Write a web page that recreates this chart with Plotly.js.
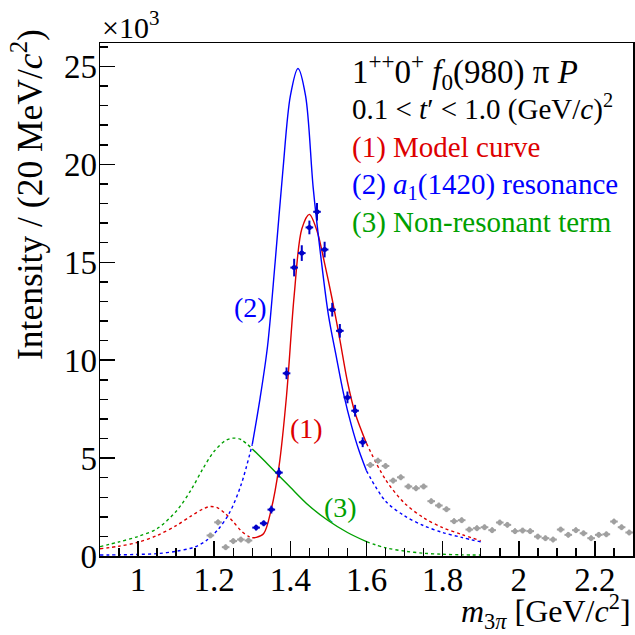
<!DOCTYPE html>
<html>
<head>
<meta charset="utf-8">
<script src="https://cdn.plot.ly/plotly-3.0.1.min.js"></script>
<style>html,body{margin:0;padding:0;background:#fff;}#plot{width:635px;height:635px;}</style>
</head>
<body>
<div id="plot"></div>
<script>
// ---- Data (intensity in units of 10^3) ----
const massFit = [1.31,1.33,1.35,1.37,1.39,1.41,1.43,1.45,1.47,1.49,1.51,1.53,1.55,1.57,1.59];
const intensFit = [1.45,1.67,2.37,4.26,9.33,14.73,15.47,16.78,17.58,15.65,12.58,11.5,8.1,7.42,5.81];
const errFit = [0.15,0.15,0.2,0.25,0.3,0.45,0.4,0.35,0.45,0.4,0.35,0.35,0.3,0.3,0.25];

const massGrayLow = [1.19,1.21,1.23,1.25,1.27,1.29];
const intensGrayLow = [1.05,1.72,0.45,0.76,0.84,0.79];

const massGrayHigh = [1.61,1.63,1.65,1.67,1.69,1.71,1.73,1.75,1.77,1.79,1.81,1.83,1.85,1.87,1.89,1.91,1.93,1.95,1.97,1.99,2.01,2.03,2.05,2.07,2.09,2.11,2.13,2.15,2.17,2.19,2.21,2.23,2.25,2.27,2.29];
const intensGrayHigh = [4.65,4.87,4.60,3.85,4.02,3.55,3.46,3.55,2.80,2.58,2.39,1.78,1.83,1.35,1.42,1.47,1.32,1.71,1.59,1.27,1.30,1.27,0.99,0.91,0.84,1.35,1.08,1.32,1.16,0.91,1.08,1.11,1.76,1.47,1.20];
const errGray = 0.15;

// Model curve (1)
const modelMass = [0.90,0.95,1.00,1.05,1.10,1.14,1.17,1.19,1.21,1.23,1.25,1.27,1.29,1.30,1.31,1.33,1.35,1.37,1.39,1.41,1.43,1.45,1.47,1.49,1.51,1.53,1.55,1.57,1.60,1.65,1.70,1.75,1.80,1.85,1.90];
const modelCurve = [0.37,0.50,0.70,1.05,1.55,2.05,2.40,2.53,2.45,2.15,1.75,1.30,1.00,0.93,0.95,1.15,2.40,4.55,8.20,13.3,16.7,17.45,16.6,14.95,13.1,11.05,8.9,7.3,5.75,3.9,2.7,1.95,1.45,1.10,0.78];

// a1(1420) resonance (2)
const resMass = [0.90,0.95,1.00,1.05,1.10,1.15,1.18,1.21,1.24,1.27,1.30,1.32,1.34,1.36,1.38,1.40,1.42,1.44,1.46,1.48,1.50,1.52,1.54,1.56,1.58,1.60,1.65,1.70,1.75,1.80,1.85,1.90];
const resCurve = [0.05,0.06,0.08,0.12,0.24,0.47,0.80,1.35,2.2,3.6,5.7,8.0,10.7,15.0,19.6,23.5,24.9,23.5,18.8,15.3,12.3,10.25,8.27,6.7,5.4,4.35,2.8,2.05,1.55,1.2,0.95,0.72];

// Non-resonant term (3)
const nonresMass = [0.90,0.95,1.00,1.05,1.10,1.14,1.17,1.20,1.23,1.25,1.27,1.30,1.34,1.37,1.40,1.45,1.50,1.55,1.60,1.65,1.70,1.75,1.80,1.85,1.90];
const nonresCurve = [0.48,0.72,1.00,1.40,2.28,3.4,4.45,5.35,5.9,6.02,5.95,5.47,4.70,4.10,3.51,2.55,1.80,1.20,0.73,0.42,0.25,0.14,0.09,0.06,0.05];

const fitLo = 1.30, fitHi = 1.60;

// ---- helpers ----
function seg(xs, ys, lo, hi) {
  const x = [], y = [];
  for (let i = 0; i < xs.length; i++) {
    if (xs[i] >= lo - 1e-9 && xs[i] <= hi + 1e-9) { x.push(xs[i]); y.push(ys[i]); }
  }
  return {x, y};
}
const RED = '#dd0000', BLUE = '#0000ff', GREEN = '#00a000';
const traces = [];
function curve(xs, ys, color) {
  const parts = [[0.0, fitLo, 'dash'], [fitLo, fitHi, 'solid'], [fitHi, 3.0, 'dash']];
  parts.forEach(p => {
    const s = seg(xs, ys, p[0], p[1]);
    traces.push({
      x: s.x, y: s.y, type: 'scatter', mode: 'lines', hoverinfo: 'skip',
      line: {color: color, width: 1.4, shape: 'spline', smoothing: 0.9, dash: p[2] === 'dash' ? '3px,3px' : 'solid'}
    });
  });
}
curve(nonresMass, nonresCurve, GREEN);
curve(modelMass, modelCurve, RED);
curve(resMass, resCurve, BLUE);

const gray = '#a0a0a0';
[[massGrayLow, intensGrayLow], [massGrayHigh, intensGrayHigh]].forEach(d => {
  traces.push({
    x: d[0], y: d[1], type: 'scatter', mode: 'markers',
    marker: {color: gray, size: 5, symbol: 'circle'},
    error_x: {type: 'constant', value: 0.01, thickness: 2, width: 0, color: gray},
    error_y: {type: 'constant', value: errGray, thickness: 2, width: 0, color: gray}
  });
});
traces.push({
  x: massFit, y: intensFit, type: 'scatter', mode: 'markers',
  marker: {color: '#0000c8', size: 5, symbol: 'circle'},
  error_x: {type: 'constant', value: 0.01, thickness: 2, width: 0, color: '#0000c8'},
  error_y: {type: 'data', array: errFit, visible: true, thickness: 2, width: 0, color: '#0000c8'}
});

const F = 'Liberation Serif';
const L = 100, T = 43, W = 533, H = 513;
function px(x) { return (x - L) / W; }
function py(y) { return (T + H - y) / H; }
function ann(text, x, y, size, color, xanchor, extra) {
  return Object.assign({text: text, xref: 'paper', yref: 'paper', x: px(x), y: py(y),
    xanchor: xanchor || 'left', yanchor: 'middle', showarrow: false,
    font: {family: F, size: size, color: color || '#000'}}, extra || {});
}

const annotations = [
  ann('×10<sup>3</sup>', 130, 25, 30, '#000', 'center'),
  ann('1<sup>++</sup>0<sup>+</sup> <i>f</i><sub>0</sub>(980) π <i>P</i>', 350, 71, 33),
  ann('0.1 &lt; <i>t</i>′ &lt; 1.0 (GeV/<i>c</i>)<sup>2</sup>', 350, 107, 29),
  ann('(1) Model curve', 350, 147, 29, RED),
  ann('(2) <i>a</i><sub>1</sub>(1420) resonance', 350, 186, 29, BLUE),
  ann('(3) Non-resonant term', 350, 222, 29, GREEN),
  ann('(2)', 250, 307, 28, BLUE, 'center'),
  ann('(1)', 306, 428, 28, RED, 'center'),
  ann('(3)', 340, 507, 28, GREEN, 'center'),
  ann('Intensity / (20 MeV/<i>c</i><sup>2</sup>)', 27, 195, 35.5, '#000', 'center', {textangle: -90}),
  ann('<i>m</i><sub>3<i>π</i></sub> [GeV/<i>c</i><sup>2</sup>]', 633, 611, 32, '#000', 'right')
];

const axisCommon = {
  showline: true, linecolor: '#000', linewidth: 1.5, mirror: true,
  ticks: 'inside', ticklen: 15, tickwidth: 1.5, tickcolor: '#000',
  showgrid: false, zeroline: false,
  tickfont: {family: F, size: 33, color: '#000'}
};

const layout = {
  width: 635, height: 635,
  font: {family: F},
  margin: {l: L, r: 635 - L - W, t: T, b: 635 - T - H, pad: 0},
  paper_bgcolor: '#fff', plot_bgcolor: '#fff',
  showlegend: false,
  xaxis: Object.assign({}, axisCommon, {
    range: [0.9, 2.3], tickmode: 'linear', tick0: 1.0, dtick: 0.2, ticklabelstandoff: -6,
    minor: {tickmode: 'linear', tick0: 0.9, dtick: 0.05, ticks: 'inside', ticklen: 8, tickwidth: 1.5, tickcolor: '#000', showgrid: false}
  }),
  yaxis: Object.assign({}, axisCommon, {
    range: [0, 26.2], tickmode: 'linear', tick0: 0, dtick: 5, ticklabelstandoff: -5,
    minor: {tickmode: 'linear', tick0: 0, dtick: 1, ticks: 'inside', ticklen: 8, tickwidth: 1.5, tickcolor: '#000', showgrid: false}
  }),
  annotations: annotations
};

Plotly.newPlot('plot', traces, layout, {staticPlot: true, displayModeBar: false});
</script>
</body>
</html>
